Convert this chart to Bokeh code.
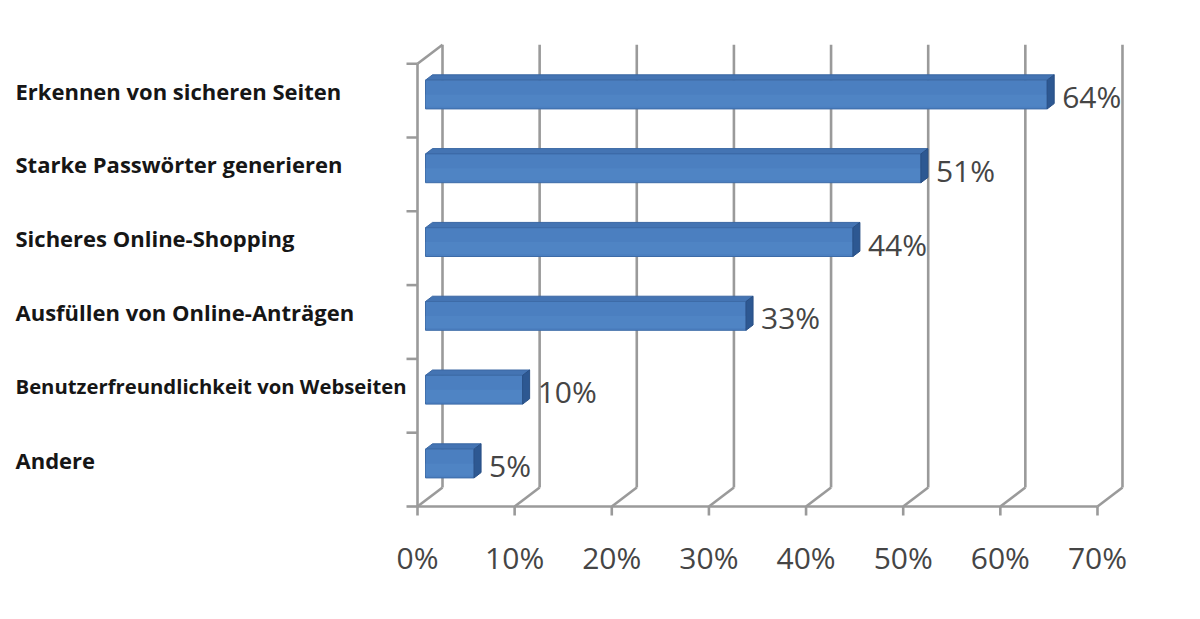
import numpy as np
from bokeh.plotting import figure
from bokeh.models import FixedTicker, Range1d, ColumnDataSource
from bokeh.core.properties import value
from bokeh.embed import file_html
from bokeh.resources import INLINE

# ---------------- data ----------------
categories = [
    "Erkennen von sicheren Seiten",
    "Starke Passwörter generieren",
    "Sicheres Online-Shopping",
    "Ausfüllen von Online-Anträgen",
    "Benutzerfreundlichkeit von Webseiten",
    "Andere",
]
values = [64, 51, 44, 33, 10, 5]
tick_values = [0, 10, 20, 30, 40, 50, 60, 70]
tick_labels = ["0%", "10%", "20%", "30%", "40%", "50%", "60%", "70%"]

# ---------------- layout ----------------
W, H = 1184, 603
PX_X = 9.714          # pixels per percent
PX_Y = 73.8           # pixels per category slot
ZERO_PX = 417         # canvas pixel of 0% on the front plane
BORDER_B = 85
Y_START = -12 / PX_Y

x_range = Range1d(-ZERO_PX / PX_X, (W - ZERO_PX) / PX_X)
y_range = Range1d(Y_START, Y_START + (H - BORDER_B) / PX_Y)

# depth vector (full floor depth) in data units
DX, DY = 25 / PX_X, 19 / PX_Y
F_FRONT, F_BACK = 0.32, 0.60
fx, fy = DX * F_FRONT, DY * F_FRONT
bx, by = DX * F_BACK, DY * F_BACK
HALF = 0.195

GRID = "#9a9a9a"
TXT = "#454545"

p = figure(width=W, height=H, x_range=x_range, y_range=y_range,
           output_backend="svg", toolbar_location=None,
           min_border_left=0, min_border_right=0, min_border_top=0,
           min_border_bottom=BORDER_B)
p.outline_line_color = None
p.grid.visible = False
p.yaxis.visible = False
p.background_fill_color = "white"
p.border_fill_color = "white"

# x axis: tick labels only
ax = p.xaxis[0]
ax.ticker = FixedTicker(ticks=tick_values)
ax.major_label_overrides = {t: l for t, l in zip(tick_values, tick_labels)}
ax.axis_line_color = None
ax.major_tick_line_color = None
ax.minor_tick_line_color = None
ax.major_label_standoff = 12
ax.major_label_text_font = "Open Sans"
ax.major_label_text_font_size = "30px"
ax.major_label_text_color = TXT

n = len(categories)
tv = np.array(tick_values, dtype=float)
top = float(n)

# back wall gridlines
p.segment(x0=tv + DX, y0=[DY] * len(tv), x1=tv + DX, y1=[top + DY] * len(tv),
          line_color=GRID, line_width=2.6)
# floor diagonals
p.segment(x0=tv, y0=[0] * len(tv), x1=tv + DX, y1=[DY] * len(tv),
          line_color=GRID, line_width=2.6)
# front floor axis line
p.segment(x0=[tv[0]], y0=[0], x1=[tv[-1]], y1=[0], line_color=GRID, line_width=2.6)
# front ticks downward
p.segment(x0=tv, y0=[0] * len(tv), x1=tv, y1=[-9 / PX_Y] * len(tv),
          line_color=GRID, line_width=2.6)
# left wall front line + diagonal at top
p.segment(x0=[0], y0=[0], x1=[0], y1=[top], line_color=GRID, line_width=2.6)
p.segment(x0=[0], y0=[top], x1=[DX], y1=[top + DY], line_color=GRID, line_width=2.6)
# left ticks at category boundaries
kb = np.arange(n + 1, dtype=float)
p.segment(x0=[0] * (n + 1), y0=kb, x1=[-11 / PX_X] * (n + 1), y1=kb,
          line_color=GRID, line_width=2.6)

# bars
v = np.array(values, dtype=float)
yc = n - 0.5 - np.arange(n)           # first category at top
b0 = yc - HALF + fy
b1 = yc + HALF + fy
ddx, ddy = bx - fx, by - fy

# top faces
top_xs = [[fx, fx + vi, fx + vi + ddx, fx + ddx] for vi in v]
top_ys = [[t, t, t + ddy, t + ddy] for t in b1]
p.patches(xs=top_xs, ys=top_ys, fill_color="#4474b3", line_color="#3a67a3", line_width=1)
# front faces
p.quad(left=[fx] * n, right=fx + v, bottom=b0, top=b1,
       fill_color="#4b7fc0", line_color="#3d6ba7", line_width=1)
# slightly lighter lower band on front face
p.quad(left=[fx] * n, right=fx + v, bottom=b0 + 0.03, top=b0 + 0.5 * (b1 - b0),
       fill_color="#5287c6", line_color=None, fill_alpha=0.6)
# right end faces
end_xs = [[fx + vi, fx + vi + ddx, fx + vi + ddx, fx + vi] for vi in v]
end_ys = [[lo, lo + ddy, hi + ddy, hi] for lo, hi in zip(b0, b1)]
p.patches(xs=end_xs, ys=end_ys, fill_color="#2d5892", line_color="#284f85", line_width=1)

# data labels
p.text(x=fx + v + ddx, y=yc + fy, text=[f"{int(x)}%" for x in values],
       x_offset=8, y_offset=2, text_align="left", text_baseline="middle",
       text_font=value("Open Sans"), text_font_size="30px", text_color=TXT)

# category labels (the long label is set slightly smaller, as in the original)
label_sizes = ["22px" if len(c) < 34 else "20.3px" for c in categories]
lab_src = ColumnDataSource(dict(x=[x_range.start] * n, y=yc + fy,
                                text=categories, size=label_sizes))
p.text(x="x", y="y", text="text", text_font_size="size", source=lab_src,
       x_offset=15, y_offset=-4, text_align="left", text_baseline="middle",
       text_font=value("Open Sans"), text_font_style="bold",
       text_color="#161616")

open("out.html", "w").write(file_html(p, INLINE))
